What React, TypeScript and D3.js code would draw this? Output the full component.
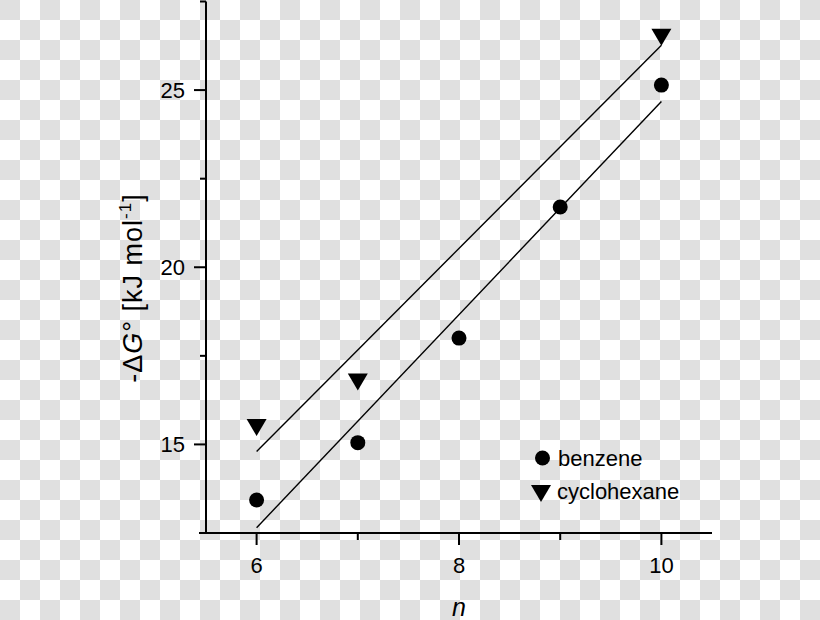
import React from "react";
import * as d3 from "d3";

const benzeneN = [6, 7, 8, 9, 10];
const benzeneG = [13.43, 15.05, 18.0, 21.7, 25.14];
const cycloN = [6, 7, 10];
const cycloG = [15.48, 16.76, 26.49];
const xMajorTicks = [6, 8, 10];
const xMinorTicks = [7, 9];
const yMajorTicks = [15, 20, 25];
const yMinorTicks = [17.5, 22.5, 27.5];
const legendLabels = ["benzene", "cyclohexane"];

const W = 820;
const H = 620;
const CELL = 20;
const FONT = "'Liberation Sans', Arial, Helvetica, sans-serif";

function fit(xs: number[], ys: number[]) {
  const mx = d3.mean(xs) as number;
  const my = d3.mean(ys) as number;
  let sxy = 0;
  let sxx = 0;
  xs.forEach((x, i) => {
    sxy += (x - mx) * (ys[i] - my);
    sxx += (x - mx) * (x - mx);
  });
  const b = sxy / sxx;
  const a = my - b * mx;
  return (x: number) => a + b * x;
}

export default function App() {
  const x = d3.scaleLinear().domain([5.5, 10.5]).range([206, 712]);
  const y = d3.scaleLinear().domain([12.5, 27.5]).range([533, 1.5]);

  const fB = fit(benzeneN, benzeneG);
  const fC = fit(cycloN, cycloG);
  const line = d3
    .line<number[]>()
    .x((d) => x(d[0]))
    .y((d) => y(d[1]));
  const nLo = d3.min(benzeneN) as number;
  const nHi = d3.max(benzeneN) as number;

  const tri = (cx: number, cy: number) => {
    const w = 10;
    const h = 17;
    return `M${cx - w},${cy - h / 2}L${cx + w},${cy - h / 2}L${cx},${cy + h / 2}Z`;
  };

  const x0 = x.range()[0];
  const x1 = x.range()[1];
  const yb = y.range()[0];
  const yt = y.range()[1];

  const cells: { cx: number; cy: number }[] = [];
  d3.range(0, Math.ceil(W / CELL)).forEach((i) => {
    d3.range(0, Math.ceil(H / CELL)).forEach((j) => {
      if ((i + j) % 2 === 0) cells.push({ cx: i * CELL, cy: j * CELL });
    });
  });

  return (
    <div style={{ position: "fixed", left: 0, top: 0, width: W, height: H, background: "#ffffff" }}>
      <svg width={W} height={H} style={{ display: "block" }} fontFamily={FONT}>
        <g>
          {cells.map((c) => (
            <rect
              key={c.cx + "_" + c.cy}
              x={c.cx}
              y={c.cy}
              width={CELL}
              height={CELL}
              fill="#e0e0e0"
            />
          ))}
        </g>

        {/* axes */}
        <line x1={x0} x2={x0} y1={yt} y2={yb} stroke="#000" strokeWidth={2} />
        <line x1={x0 - 7} x2={x1} y1={yb} y2={yb} stroke="#000" strokeWidth={2} />

        {xMajorTicks.map((t) => (
          <g key={"xM" + t}>
            <line x1={x(t)} x2={x(t)} y1={yb} y2={yb + 12} stroke="#000" strokeWidth={2} />
            <text x={x(t)} y={yb + 40} textAnchor="middle" fontSize={22}>
              {t}
            </text>
          </g>
        ))}
        {xMinorTicks.map((t) => (
          <line key={"xm" + t} x1={x(t)} x2={x(t)} y1={yb} y2={yb + 7} stroke="#000" strokeWidth={2} />
        ))}
        {yMajorTicks.map((t) => (
          <g key={"yM" + t}>
            <line x1={x0 - 12} x2={x0} y1={y(t)} y2={y(t)} stroke="#000" strokeWidth={2} />
            <text x={x0 - 21} y={y(t) + 8} textAnchor="end" fontSize={22}>
              {t}
            </text>
          </g>
        ))}
        {yMinorTicks.map((t) => (
          <line key={"ym" + t} x1={x0 - 6} x2={x0} y1={y(t)} y2={y(t)} stroke="#000" strokeWidth={2} />
        ))}

        {/* axis titles */}
        <text x={x(8)} y={616} textAnchor="middle" fontSize={25} fontStyle="italic">
          n
        </text>
        <text
          transform={`translate(142, 288) rotate(-90)`}
          textAnchor="middle"
          fontSize={27}
          letterSpacing={1}
        >
          <tspan>-Δ</tspan>
          <tspan fontStyle="italic">G</tspan>
          <tspan>° [kJ mol</tspan>
          <tspan fontSize={17} dy={-11}>-1</tspan>
          <tspan dy={11}>]</tspan>
        </text>

        {/* fit lines */}
        <path
          d={line([
            [nLo, fB(nLo)],
            [nHi, fB(nHi)],
          ]) as string}
          fill="none"
          stroke="#000"
          strokeWidth={1.4}
        />
        <path
          d={line([
            [nLo, fC(nLo)],
            [nHi, fC(nHi)],
          ]) as string}
          fill="none"
          stroke="#000"
          strokeWidth={1.4}
        />

        {/* points */}
        {benzeneN.map((n, i) => (
          <circle key={"b" + n} cx={x(n)} cy={y(benzeneG[i])} r={7.5} fill="#000" />
        ))}
        {cycloN.map((n, i) => (
          <path key={"c" + n} d={tri(x(n), y(cycloG[i]))} fill="#000" />
        ))}

        {/* legend */}
        <circle cx={542.5} cy={458} r={7.5} fill="#000" />
        <text x={558} y={466} fontSize={22}>
          {legendLabels[0]}
        </text>
        <path d={tri(541, 493.5)} fill="#000" />
        <text x={557} y={499} fontSize={22}>
          {legendLabels[1]}
        </text>
      </svg>
    </div>
  );
}
